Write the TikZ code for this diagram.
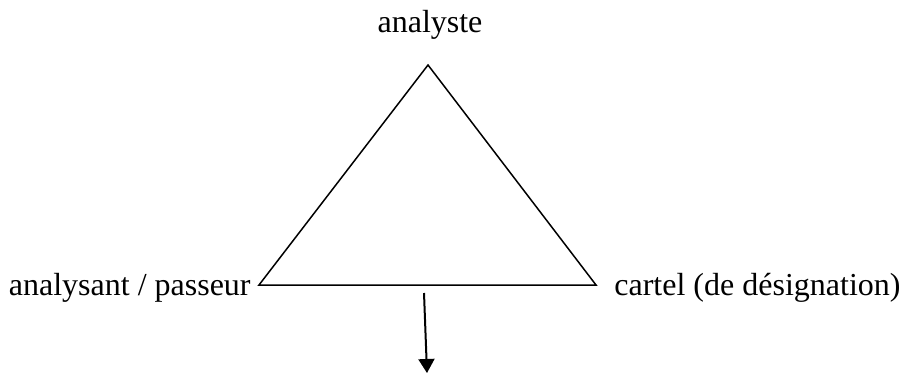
\documentclass[tikz,border=0pt]{standalone}
\usepackage{fontspec}
\setmainfont{Liberation Serif}
\usetikzlibrary{arrows.meta}
\begin{document}
\begin{tikzpicture}[x=0.5pt,y=-0.5pt,
  lbl/.style={font=\fontsize{16}{19}\selectfont, inner sep=0pt},
  tri/.style={line width=0.75pt, line join=miter},
  arr/.style={line width=1pt, -{Triangle[length=7pt,width=8pt]}}]
\useasboundingbox (0,0) rectangle (903,374);
\coordinate (A) at (428,65);
\coordinate (L) at (259,285);
\coordinate (R) at (596,285);
\draw[tri] (A) -- (L) -- (R) -- cycle;
\node[lbl, anchor=base] (ta) at (430,33) {analyste};
\node[lbl, anchor=base east] (tl) at (251,295) {analysant / passeur};
\node[lbl, anchor=base west] (tr) at (614,295) {cartel (de désignation)};
\coordinate (s) at (424,293);
\coordinate (e) at (427,373);
\draw[arr] (s) -- (e);
\end{tikzpicture}
\end{document}
